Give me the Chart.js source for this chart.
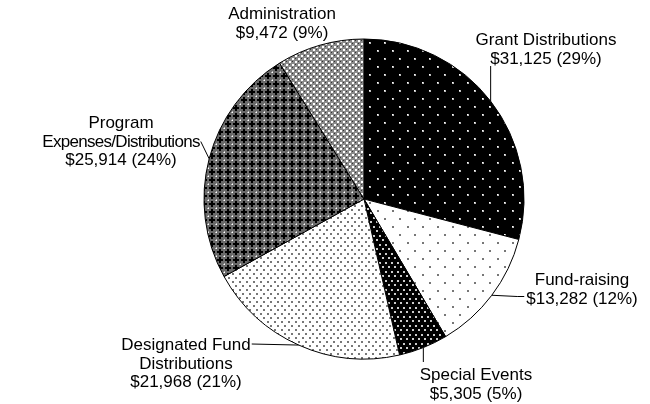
<!DOCTYPE html>
<html>
<head>
<meta charset="utf-8">
<script src="https://cdn.jsdelivr.net/npm/chart.js@4.4.1/dist/chart.umd.min.js"></script>
<style>
html,body{margin:0;padding:0;background:#fff;}
#wrap{width:650px;height:404px;position:relative;}
</style>
</head>
<body>
<div id="wrap"><canvas id="c" width="650" height="404"></canvas></div>
<script>
// ---- data ----
const categories = ['Grant Distributions','Fund-raising','Special Events','Designated Fund Distributions','Program Expenses/Distributions','Administration'];
const amounts = [31125, 13282, 5305, 21968, 25914, 9472];
// label text lines (name split over lines as in the reference)
const nameLines = [
  ['Grant Distributions'],
  ['Fund-raising'],
  ['Special Events'],
  ['Designated Fund','Distributions'],
  ['Program','Expenses/Distributions'],
  ['Administration']
];

// ---- label layout (text placement + leader attachment), separate from data ----
const labelLayout = [
  {cx:546, y:45,  leader:{type:'vertical', toY:66}},
  {cx:582, y:285, leader:{type:'text', line:1, side:'left', dy:-2, elbow:7}},
  {cx:476, y:380, leader:{type:'vertical', toY:362}},
  {cx:186, y:350, leader:{type:'text', line:0, side:'right', dy:-1, elbow:0}},
  {cx:121, y:128, leader:{type:'text', line:1, side:'right', dy:0, elbow:0}, spacing:{1:-0.7}},
  {cx:282, y:19,  leader:null}
];
const LINE_H = 18.5;
const FONT = '17px "Liberation Sans", Arial, sans-serif';

// ---- patterns ----
function makePattern(w, h, draw){
  const c = document.createElement('canvas');
  c.width = w; c.height = h;
  const g = c.getContext('2d');
  draw(g, w, h);
  return g.createPattern(c, 'repeat');
}
const patterns = [
  makePattern(15, 16, (g,w,h)=>{
    g.fillStyle='#000'; g.fillRect(0,0,w,h);
    g.fillStyle='#bbb'; g.fillRect(2,2,2,2); g.fillRect(9,10,2,2);
    g.fillStyle='#fff'; g.fillRect(2,2,1,1); g.fillRect(9,10,1,1);
  }),
  makePattern(15, 16, (g,w,h)=>{
    g.fillStyle='#fff'; g.fillRect(0,0,w,h);
    g.fillStyle='#777'; g.fillRect(2,2,2,2); g.fillRect(9,10,2,2);
  }),
  makePattern(6, 9, (g,w,h)=>{
    g.fillStyle='#000'; g.fillRect(0,0,w,h);
    g.fillStyle='#ccc'; g.fillRect(1,1,2,2); g.fillRect(4,5,2,2);
  }),
  makePattern(7, 8, (g,w,h)=>{
    g.fillStyle='#fff'; g.fillRect(0,0,w,h);
    g.fillStyle='#777'; g.fillRect(1,1,2,2); g.fillRect(4,5,2,2);
  }),
  makePattern(8, 8, (g,w,h)=>{
    g.fillStyle='#6a6a6a'; g.fillRect(0,0,w,h);
    g.fillStyle='#000';
    g.fillRect(3,1,2,6); g.fillRect(1,3,6,2);
    g.fillStyle='#fff';
    g.fillRect(0,0,1,1);
    g.fillStyle='#bbb';
    g.fillRect(7,0,1,1); g.fillRect(0,7,1,1);
  }),
  makePattern(6, 6, (g,w,h)=>{
    g.fillStyle='#8a8a8a'; g.fillRect(0,0,w,h);
    g.fillStyle='#fff'; g.fillRect(1,1,2,2); g.fillRect(4,4,2,2);
    g.fillStyle='#333'; g.fillRect(4,1,1,1); g.fillRect(1,4,1,1);
  })
];

const total = amounts.reduce((a,b)=>a+b,0);
function fmt(v){ return '$' + v.toLocaleString('en-US'); }

const labelPlugin = {
  id:'pieLabels',
  afterDraw(chart){
    const ctx = chart.ctx;
    const arcs = chart.getDatasetMeta(0).data;
    ctx.save();
    ctx.font = FONT;
    ctx.fillStyle = '#000';
    ctx.textAlign = 'center';
    ctx.textBaseline = 'alphabetic';
    ctx.strokeStyle = '#000';
    ctx.lineWidth = 1;
    arcs.forEach((arc, i)=>{
      const p = arc.getProps(['x','y','startAngle','endAngle','outerRadius'], true);
      const mid = (p.startAngle + p.endAngle)/2;
      const ax = p.x + Math.cos(mid)*p.outerRadius;
      const ay = p.y + Math.sin(mid)*p.outerRadius;
      const L = labelLayout[i];
      const pct = Math.round(amounts[i]/total*100);
      const lines = nameLines[i].concat([fmt(amounts[i]) + ' (' + pct + '%)']);
      const sp = L.spacing || {};
      const setSp = k => { ctx.letterSpacing = (sp[k] || 0) + 'px'; };
      const ld = L.leader;
      if (ld){
        setSp(ld.line);
        const w = ctx.measureText(lines[ld.line]).width;
        ctx.beginPath();
        ctx.moveTo(ax, ay);
        if (ld.type === 'vertical'){
          ctx.lineTo(ax, ld.toY);
        } else {
          const ty = L.y + ld.line*LINE_H - 5 + ld.dy;
          const tx = ld.side === 'left' ? L.cx - w/2 - 2 : L.cx + w/2 + 1;
          const ex = ld.side === 'left' ? tx - ld.elbow : tx + ld.elbow;
          ctx.lineTo(ex, ty);
          ctx.lineTo(tx, ty);
        }
        ctx.stroke();
      }
      lines.forEach((t, k)=>{
        setSp(k);
        ctx.fillText(t, L.cx, L.y + k*LINE_H);
      });
      ctx.letterSpacing = '0px';
    });
    ctx.restore();
  }
};

new Chart(document.getElementById('c'), {
  type:'pie',
  data:{
    labels: categories,
    datasets:[{
      data: amounts,
      backgroundColor: patterns,
      borderColor:'#000',
      borderWidth:1,
      hoverOffset:0
    }]
  },
  options:{
    responsive:false,
    animation:false,
    layout:{padding:{left:203.5, right:125.5, top:38.5, bottom:44.5}},
    plugins:{legend:{display:false}, tooltip:{enabled:false}},
    events:[]
  },
  plugins:[labelPlugin]
});
</script>
</body>
</html>
